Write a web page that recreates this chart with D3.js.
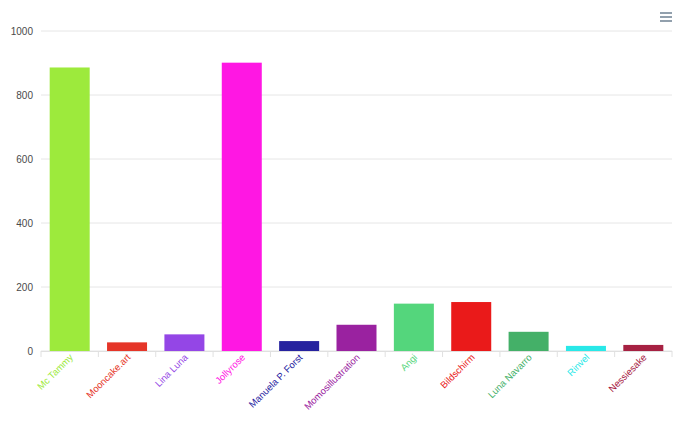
<!DOCTYPE html>
<html><head><meta charset="utf-8">
<script src="https://cdn.jsdelivr.net/npm/d3@7"></script>
<style>body{margin:0;background:#fff;}svg{display:block;font-family:"Liberation Sans",Arial,Helvetica,sans-serif;}</style>
</head><body>
<svg id="c" width="687" height="434"></svg>
<script>
const categories = ["Mc Tammy","Mooncake.art","Lina Luna","Jollyrose","Manuela P. Forst","Momosillustration","Angi","Bildschirm","Luna Navarro","Rinvel","Nessiesake"];
const values = [886, 27, 52, 901, 31, 82, 148, 153, 60, 16, 19];
const colors = ["#9DEA3C","#E53528","#9446E6","#FF17E3","#26229F","#9A22A0","#54D67C","#EA1A1A","#44B068","#29E8E8","#A62142"];
const yTicks = [0,200,400,600,800,1000];

const svg = d3.select("#c");
const m = {l:41, r:15, t:31, b:83};
const W = 687, H = 434;
const xb = d3.scaleBand().domain(categories).range([m.l, W - m.r]);
const y = d3.scaleLinear().domain([0,1000]).range([H - m.b, m.t]);

// gridlines
svg.append("g").selectAll("line").data(yTicks).join("line")
  .attr("x1", m.l).attr("x2", W - m.r)
  .attr("y1", d => y(d)).attr("y2", d => y(d))
  .attr("stroke", "#e6e6e6").attr("stroke-width", 1);

// y labels
svg.append("g").selectAll("text").data(yTicks).join("text")
  .attr("x", 33).attr("y", d => y(d) + 3.5)
  .attr("text-anchor", "end").attr("font-size", 10).attr("fill", "#4a4a4a")
  .text(d => d);

// bars
svg.append("g").selectAll("rect").data(categories).join("rect")
  .attr("x", (d) => xb(d) + (xb.bandwidth() - 40) / 2)
  .attr("width", 40)
  .attr("y", (d,i) => y(values[i]))
  .attr("height", (d,i) => y(0) - y(values[i]))
  .attr("fill", (d,i) => colors[i]);

// x axis line and ticks
const ax = svg.append("g");
ax.append("line").attr("x1", m.l).attr("x2", W - m.r).attr("y1", y(0) + 0.5).attr("y2", y(0) + 0.5).attr("stroke", "#e0e0e0");
ax.selectAll("line.t").data(categories.concat(["_end"])).join("line").attr("class","t")
  .attr("x1", (d,i) => m.l + i * xb.step()).attr("x2", (d,i) => m.l + i * xb.step())
  .attr("y1", y(0)).attr("y2", y(0) + 6).attr("stroke", "#e0e0e0");

// x labels
svg.append("g").selectAll("text").data(categories).join("text")
  .attr("transform", d => `translate(${xb(d) + xb.bandwidth()/2 + 4},${y(0) + 7}) rotate(-45)`)
  .attr("text-anchor", "end").attr("font-size", 9.5)
  .attr("fill", (d,i) => colors[i])
  .text(d => d);

// menu icon
const menu = svg.append("g").attr("stroke", "#6E8192").attr("stroke-width", 1.5);
[13,17,21].forEach(yy => menu.append("line").attr("x1", 660).attr("x2", 672).attr("y1", yy).attr("y2", yy));
</script>
</body></html>
